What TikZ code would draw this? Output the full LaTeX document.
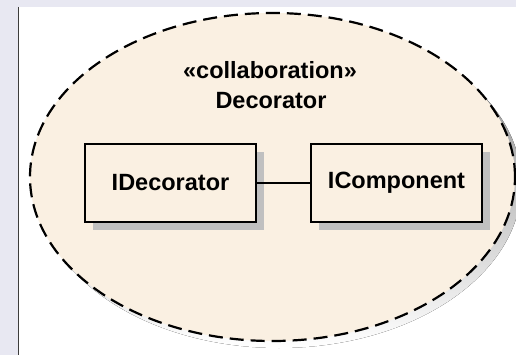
\documentclass[tikz,border=0pt]{standalone}
\usepackage{fontspec}
\setmainfont{Liberation Sans}
\definecolor{pagebg}{RGB}{232,232,242}
\definecolor{cream}{RGB}{250,240,226}
\definecolor{shade}{RGB}{192,192,192}
\definecolor{rule}{RGB}{60,60,60}
\tikzset{
  umltext/.style={font=\fontsize{23.5}{28}\selectfont\bfseries, inner sep=0pt},
  classbox/.style={draw=black, line width=2.6pt, fill=cream, minimum width=171pt,
    minimum height=78pt, inner sep=0pt, font=\fontsize{23.5}{28}\selectfont\bfseries},
  boxshadow/.style={fill=shade, draw=none},
  collab/.style={draw=black, line width=2.2pt, dash pattern=on 14pt off 7pt, fill=cream},
  link/.style={draw=black, line width=2pt}
}
\begin{document}
\begin{tikzpicture}[x=1pt, y=-1pt]
  \useasboundingbox (0,0) rectangle (516,355);
  % page background and white drawing area
  \fill[pagebg] (0,0) rectangle (516,355);
  \fill[white] (18,7) rectangle (516,355);
  \draw[rule, line width=1pt] (18,7) -- (18,355);

  % collaboration ellipse with its shadow
  \begin{scope}
    \clip (18,7) rectangle (516,355);
    \fill[shade] (279,184) ellipse [x radius=242.5pt, y radius=164pt];
    \path[collab] (272.5,177) ellipse [x radius=242.5pt, y radius=164pt];
  \end{scope}

  % title
  \node[umltext, anchor=base] (stereo) at (270,79) {«collaboration»};
  \node[umltext, anchor=base] (title) at (271,109) {Decorator};

  % shadows of the role boxes
  \fill[boxshadow] (93,152) rectangle (264,230);
  \fill[boxshadow] (319,152) rectangle (490,230);

  % role boxes
  \node[classbox] (idec) at (170.5,183) {IDecorator};
  \node[classbox] (icomp) at (396.5,183) {IComponent};

  \draw[link] (idec) -- (icomp);
\end{tikzpicture}
\end{document}
